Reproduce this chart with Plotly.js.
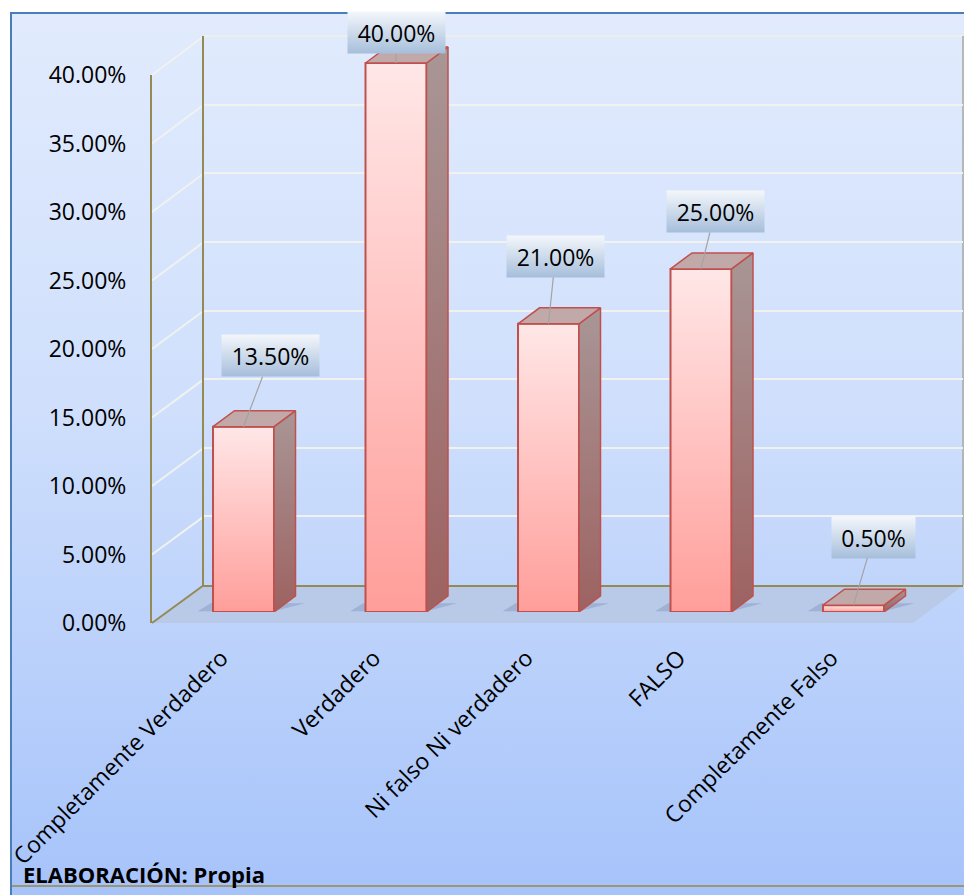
<!DOCTYPE html>
<html><head><meta charset="utf-8">
<script src="https://cdn.plot.ly/plotly-3.0.1.min.js"></script>
<style>
html,body{margin:0;padding:0;background:#fff;width:964px;height:895px;overflow:hidden;}
#frame{position:absolute;left:10px;top:12px;width:952px;height:881px;border-left:2px solid #4a7ebb;border-top:2px solid #4a7ebb;background:linear-gradient(to bottom,#e1ebfd 0%,#cfdffc 45%,#a6c3fa 100%);}
#botline{position:absolute;left:12px;top:885px;width:952px;height:2px;background:#9c9674;}
#chart{position:absolute;left:0;top:0;width:964px;height:895px;}
</style></head>
<body>
<div id="frame"></div><div id="botline"></div>
<svg width="0" height="0" style="position:absolute"><defs>
<linearGradient id="barGrad" x1="0" y1="0" x2="0" y2="1"><stop offset="0" stop-color="#ffe7e7"/><stop offset="1" stop-color="#ff9e9a"/></linearGradient>
<linearGradient id="lblGrad" x1="0" y1="0" x2="0" y2="1"><stop offset="0" stop-color="#f4f7fb"/><stop offset="1" stop-color="#a6bedb"/></linearGradient>
</defs></svg>
<div id="chart"></div>
<script>
// ---- data ----
const categories = ['Completamente Verdadero', 'Verdadero', 'Ni falso Ni verdadero', 'FALSO', 'Completamente Falso'];
const percentages = [13.5, 40.0, 21.0, 25.0, 0.5];
const dataLabels = ['13.50%', '40.00%', '21.00%', '25.00%', '0.50%'];
const yTickVals = [0, 5, 10, 15, 20, 25, 30, 35, 40];
const yTickText = ['0.00%', '5.00%', '10.00%', '15.00%', '20.00%', '25.00%', '30.00%', '35.00%', '40.00%'];
const sourceNote = 'ELABORACIÓN: Propia';

// ---- layout geometry (pixels) ----
const W = 964, H = 895;
const px = v => v / W, py = v => 1 - v / H;
const FRONT = {x: 152, y0: 623, y40: 75};
const BACK = {x: 204, x1: 963, y0: 585, y40: 36};
const BARS = {x0: 167.25, x1: 929.75, y0: 612, y40: 63};
const barK = (BARS.y0 - BARS.y40) / 40;   // px per percent
const barYMax = 43;                        // headroom so 3D tops are not clipped
const barW = 0.4;
const catPx = (BARS.x1 - BARS.x0) / 5;
const dxd = 21.5 / catPx;                  // depth in category units
const dyd = 16 / barK;                     // depth in value units
const labelOffsets = [[27, -71], [0, -30], [7, -67.5], [14, -57.5], [20, -68]];
const olive = '#948a54';

const catIdx = categories.map((c, i) => i);

const traces = [
  {type: 'scatter', x: [], y: [], xaxis: 'x', yaxis: 'y', hoverinfo: 'skip', showlegend: false},
  {type: 'scatter', x: [], y: [], xaxis: 'x2', yaxis: 'y2', hoverinfo: 'skip', showlegend: false},
  {type: 'bar', x: catIdx, y: percentages, width: barW, xaxis: 'x3', yaxis: 'y3', cliponaxis: false,
   marker: {color: '#ffc2c0', line: {color: '#c0504d', width: 2}}, hoverinfo: 'skip', showlegend: false}
];
// side & top faces derived from the same values
percentages.forEach((v, i) => {
  const r = i + barW / 2, l = i - barW / 2;
  traces.push({type: 'scatter', mode: 'lines', xaxis: 'x3', yaxis: 'y3', cliponaxis: false, showlegend: false, hoverinfo: 'skip',
    x: [r, r + dxd, r + dxd, r, r], y: [0, dyd, v + dyd, v, 0], fill: 'toself', fillcolor: '#a27a7a',
    fillgradient: {type: 'vertical', colorscale: [[0, '#9d6261'], [1, '#a99696']]},
    line: {color: '#c0504d', width: 1.5}});
  traces.push({type: 'scatter', mode: 'lines', xaxis: 'x3', yaxis: 'y3', cliponaxis: false, showlegend: false, hoverinfo: 'skip',
    x: [l, r, r + dxd, l + dxd, l], y: [v, v, v + dyd, v + dyd, v], fill: 'toself', fillcolor: '#c1a9a9',
    line: {color: '#c0504d', width: 1.5}});
});

// shapes: floor, side-wall gridlines, back wall edges, bar shadows
const shapes = [];
shapes.push({type: 'path', xref: 'paper', yref: 'paper', layer: 'below',
  path: `M${px(FRONT.x)},${py(FRONT.y0)} L${px(BACK.x)},${py(BACK.y0)} L${px(964)},${py(BACK.y0)} L${px(913)},${py(FRONT.y0)} Z`,
  fillcolor: '#b9cae8', line: {width: 0}});
yTickVals.forEach(t => {
  const yf = FRONT.y0 - t * (FRONT.y0 - FRONT.y40) / 40;
  const yb = BACK.y0 - t * (BACK.y0 - BACK.y40) / 40;
  shapes.push({type: 'line', xref: 'paper', yref: 'paper', layer: 'below',
    x0: px(FRONT.x), y0: py(yf), x1: px(BACK.x), y1: py(yb),
    line: {color: t === 0 ? olive : '#f1f2f0', width: 2}});
});
shapes.push({type: 'line', xref: 'paper', yref: 'paper', layer: 'below', x0: px(BACK.x), x1: px(BACK.x1), y0: py(BACK.y40), y1: py(BACK.y40), line: {color: '#eeeeea', width: 2}});
shapes.push({type: 'line', xref: 'paper', yref: 'paper', layer: 'below', x0: px(BACK.x1), x1: px(BACK.x1), y0: py(BACK.y40), y1: py(BACK.y0), line: {color: '#a8a8a0', width: 1.5}});
percentages.forEach((v, i) => {
  const l = i - barW / 2 - 0.1, r = i + barW / 2 + dxd + 0.06;
  shapes.push({type: 'path', xref: 'x3', yref: 'y3', layer: 'below',
    path: `M${l},0.05 L${i + barW / 2},0.05 L${r},${dyd * 0.55} L${l + dxd * 0.6},${dyd * 0.55} Z`,
    fillcolor: 'rgba(70,90,140,0.22)', line: {width: 0}});
});

const annotations = percentages.map((v, i) => ({
  xref: 'x3', yref: 'y3', x: i, y: v, text: dataLabels[i], showarrow: true, arrowhead: 0, arrowwidth: 1.2,
  arrowcolor: '#a3a3a3', ax: labelOffsets[i][0], ay: labelOffsets[i][1], standoff: 0,
  width: dataLabels[i].length > 5 ? 87 : 73, height: 31, borderpad: 5, bgcolor: '#cdd9ea',
  font: {family: 'Open Sans, sans-serif', size: 23, color: '#000'}
}));
annotations.push({xref: 'paper', yref: 'paper', x: px(21), y: py(874), xanchor: 'left', yanchor: 'middle', showarrow: false,
  text: '<b>' + sourceNote + '</b>', font: {family: 'Open Sans, sans-serif', size: 22, color: '#000'}});

const layout = {
  width: W, height: H, margin: {l: 0, r: 0, t: 0, b: 0}, autosize: false, showlegend: false,
  paper_bgcolor: 'rgba(0,0,0,0)', plot_bgcolor: 'rgba(0,0,0,0)',
  font: {family: 'Open Sans, sans-serif', size: 23, color: '#000'},
  xaxis: {domain: [px(BACK.x), px(BACK.x1)], range: [0, 1], anchor: 'y', showgrid: false, zeroline: false,
    showticklabels: false, ticks: '', showline: true, linecolor: olive, linewidth: 2, fixedrange: true},
  yaxis: {domain: [py(BACK.y0), py(BACK.y40)], range: [0, 40], anchor: 'x', tickvals: yTickVals, showgrid: true,
    gridcolor: '#f1f2f0', gridwidth: 2, zeroline: false, showticklabels: false, ticks: '', showline: true,
    linecolor: olive, linewidth: 2, fixedrange: true},
  xaxis2: {domain: [px(FRONT.x), px(913)], range: [0, 1], anchor: 'y2', visible: false, fixedrange: true},
  yaxis2: {domain: [py(FRONT.y0), py(FRONT.y40)], range: [0, 40], anchor: 'x2', tickvals: yTickVals, ticktext: yTickText,
    showgrid: false, zeroline: false, showline: true, linecolor: olive, linewidth: 2, ticks: '',
    ticklabelstandoff: 19, tickfont: {family: 'Open Sans, sans-serif', size: 23, color: '#000'}, fixedrange: true},
  xaxis3: {domain: [px(BARS.x0), px(BARS.x1)], range: [-0.5, 4.5], anchor: 'y3', tickvals: catIdx, ticktext: categories,
    tickangle: -45, showgrid: false, zeroline: false, showline: false, ticks: '', ticklabelstandoff: 27, ticklabelshift: -22,
    tickfont: {family: 'Open Sans, sans-serif', size: 23, color: '#000'}, fixedrange: true},
  yaxis3: {domain: [py(BARS.y0), py(BARS.y0 - barYMax * barK)], range: [0, barYMax], anchor: 'x3', visible: false, fixedrange: true},
  shapes: shapes, annotations: annotations
};

const gd = document.getElementById('chart');
Plotly.newPlot(gd, traces, layout, {displayModeBar: false, staticPlot: true}).then(() => {
  gd.querySelectorAll('.barlayer .point path').forEach(p => { p.style.fill = 'url(#barGrad)'; });
  gd.querySelectorAll('.annotation').forEach(a => {
    const idx = +a.getAttribute('data-index');
    if (idx < percentages.length) {
      const bg = a.querySelector('rect.bg');
      if (bg) bg.style.fill = 'url(#lblGrad)';
    }
  });
});
</script>
</body></html>
